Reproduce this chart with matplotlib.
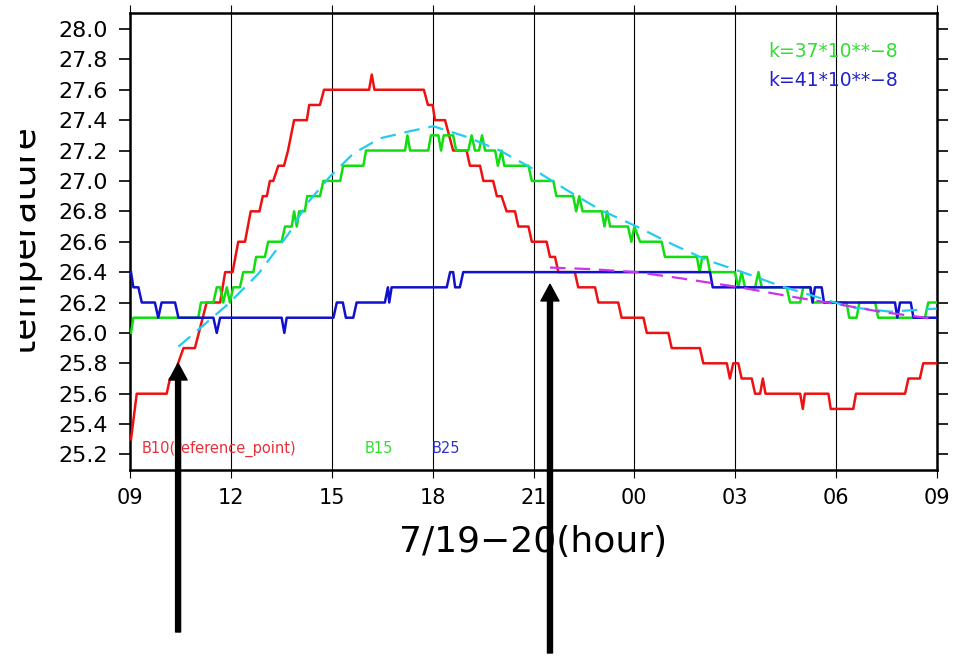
import matplotlib
matplotlib.use("Agg")
import matplotlib.pyplot as plt
from matplotlib.patches import Rectangle

# hours after 7/19 09:00
b10_hours = [0.03, 0.20, 1.09, 1.19, 1.28, 1.43, 1.59, 1.93, 2.28, 2.68, 2.83, 3.05,
             3.22, 3.42, 3.59, 3.85, 3.95, 4.07, 4.16, 4.26, 4.41, 4.58, 4.70, 4.88,
             5.26, 5.33, 5.65, 5.77, 7.11, 7.19, 7.27, 8.74, 8.86, 9.00, 9.07, 9.37,
             9.61, 10.01, 10.11, 10.41, 10.51, 10.80, 10.91, 11.05, 11.20, 11.45, 11.55,
             11.85, 11.95, 12.39, 12.49, 12.64, 12.74, 13.23, 13.33, 13.83, 13.93, 14.52,
             14.62, 15.27, 15.37, 16.01, 16.11, 16.95, 17.05, 17.75, 17.84, 17.94, 18.09,
             18.19, 18.49, 18.59, 18.74, 18.82, 18.90, 19.93, 20.01, 20.07, 20.77, 20.84,
             21.51, 21.59, 23.05, 23.15, 23.49, 23.59, 24.00]
b10_temp = [25.3, 25.6, 25.6, 25.7, 25.7, 25.8, 25.9, 25.9, 26.2, 26.2, 26.4, 26.4,
            26.6, 26.6, 26.8, 26.8, 26.9, 26.9, 27.0, 27.0, 27.1, 27.1, 27.2, 27.4,
            27.4, 27.5, 27.5, 27.6, 27.6, 27.7, 27.6, 27.6, 27.5, 27.5, 27.4, 27.4,
            27.2, 27.2, 27.1, 27.1, 27.0, 27.0, 26.9, 26.9, 26.8, 26.8, 26.7,
            26.7, 26.6, 26.6, 26.5, 26.5, 26.4, 26.4, 26.3, 26.3, 26.2, 26.2,
            26.1, 26.1, 26.0, 26.0, 25.9, 25.9, 25.8, 25.8, 25.7, 25.8, 25.8,
            25.7, 25.7, 25.6, 25.6, 25.7, 25.6, 25.6, 25.5, 25.6, 25.6, 25.5,
            25.5, 25.6, 25.6, 25.7, 25.7, 25.8, 25.8]

b15_hours = [0.03, 0.10, 2.03, 2.11, 2.48, 2.58, 2.68, 2.77, 2.88, 2.97, 3.07, 3.27,
             3.37, 3.67, 3.75, 4.01, 4.11, 4.51, 4.61, 4.81, 4.88, 4.96, 5.03, 5.20,
             5.27, 5.65, 5.75, 6.25, 6.34, 6.94, 7.02, 8.18, 8.25, 8.33, 8.87, 8.95,
             9.17, 9.25, 9.33, 9.61, 9.70, 10.06, 10.16, 10.26, 10.38, 10.47, 10.56,
             10.86, 10.94, 11.05, 11.13, 11.85, 11.95, 12.59, 12.68, 13.18, 13.27, 13.36,
             13.46, 14.03, 14.11, 14.19, 14.28, 14.81, 14.91, 15.00, 15.17, 15.81, 15.91,
             16.86, 16.94, 17.02, 17.16, 17.25, 17.99, 18.09, 18.19, 18.29, 18.59, 18.69,
             18.79, 19.53, 19.63, 19.93, 20.02, 20.22, 20.30, 21.31, 21.39, 21.61, 21.69,
             22.16, 22.25, 23.64, 23.74, 24.00]
b15_temp = [26.0, 26.1, 26.1, 26.2, 26.2, 26.3, 26.3, 26.2, 26.3, 26.2, 26.3, 26.3,
            26.4, 26.4, 26.5, 26.5, 26.6, 26.6, 26.7, 26.7, 26.8, 26.7, 26.8, 26.8,
            26.9, 26.9, 27.0, 27.0, 27.1, 27.1, 27.2, 27.2, 27.3, 27.2, 27.2, 27.3,
            27.3, 27.2, 27.3, 27.3, 27.2, 27.2, 27.3, 27.2, 27.2, 27.3, 27.2,
            27.2, 27.1, 27.2, 27.1, 27.1, 27.0, 27.0, 26.9, 26.9, 26.8, 26.9,
            26.8, 26.8, 26.7, 26.8, 26.7, 26.7, 26.6, 26.7, 26.6, 26.6, 26.5,
            26.5, 26.4, 26.5, 26.5, 26.4, 26.4, 26.3, 26.4, 26.3, 26.3, 26.4,
            26.3, 26.3, 26.2, 26.2, 26.3, 26.3, 26.2, 26.2, 26.1, 26.1, 26.2,
            26.2, 26.1, 26.1, 26.2, 26.2]

b25_hours = [0.03, 0.10, 0.25, 0.35, 0.74, 0.84, 0.94, 1.34, 1.44, 2.48, 2.58, 2.68,
             4.51, 4.59, 4.66, 6.05, 6.15, 6.33, 6.42, 6.64, 6.74, 7.58, 7.67, 7.71,
             7.78, 9.42, 9.52, 9.61, 9.67, 9.81, 9.91, 17.25, 17.33, 20.24, 20.30, 20.37,
             20.57, 20.64, 22.75, 22.82, 22.90, 23.22, 23.30, 24.00]
b25_temp = [26.4, 26.3, 26.3, 26.2, 26.2, 26.1, 26.2, 26.2, 26.1, 26.1, 26.0, 26.1,
            26.1, 26.0, 26.1, 26.1, 26.2, 26.2, 26.1, 26.1, 26.2, 26.2, 26.3, 26.2,
            26.3, 26.3, 26.4, 26.4, 26.3, 26.3, 26.4, 26.4, 26.3, 26.3, 26.2, 26.3,
            26.3, 26.2, 26.2, 26.1, 26.2, 26.2, 26.1, 26.1]

# model curves
fit15_hours = [1.44, 2.13, 2.92, 3.82, 4.71, 5.26, 5.95, 6.64, 7.43, 8.38, 9.02, 10.01,
               11.00, 11.90, 12.99, 13.98, 15.07, 16.16, 17.15, 18.34, 19.33, 20.52,
               21.41, 22.60, 23.99]
fit15_temp = [25.91, 26.04, 26.19, 26.39, 26.65, 26.85, 27.03, 27.18, 27.28, 27.33, 27.36,
              27.29, 27.20, 27.09, 26.94, 26.81, 26.70, 26.58, 26.48, 26.39, 26.31, 26.23,
              26.17, 26.14, 26.16]
fit25_hours = [12.49, 13.68, 15.07, 16.36, 18.14, 19.63, 21.02, 22.30, 23.99]
fit25_temp = [26.43, 26.42, 26.40, 26.36, 26.30, 26.24, 26.19, 26.14, 26.09]

tick_hours = [0, 3, 6, 9, 12, 15, 18, 21, 24]
tick_labels = ["09", "12", "15", "18", "21", "00", "03", "06", "09"]
y_ticks = [25.2 + 0.2 * i for i in range(15)]

W, H = 963, 656
fig = plt.figure(figsize=(W / 100, H / 100), dpi=100, facecolor="white")
ax = fig.add_axes([130 / W, 1 - 470 / H, 807 / W, 457 / H])

ax.plot(b10_hours, b10_temp, color="#ee1111", lw=1.8, zorder=3)
ax.plot(b15_hours, b15_temp, color="#11dd11", lw=1.8, zorder=3)
ax.plot(b25_hours, b25_temp, color="#1111cc", lw=1.8, zorder=4)
ax.plot(fit15_hours, fit15_temp, color="#22ccee", lw=1.6, dashes=(7, 4), zorder=5)
ax.plot(fit25_hours, fit25_temp, color="#cc33ee", lw=1.6, dashes=(7, 4), zorder=5)

ax.set_xlim(0, 24)
ax.set_ylim(25.098, 28.105)
ax.set_xticks(tick_hours)
ax.set_xticklabels(tick_labels)
ax.set_yticks(y_ticks)
ax.set_yticklabels([f"{v:.1f}" for v in y_ticks])
ax.grid(axis="x", color="black", lw=0.8)
for s in ax.spines.values():
    s.set_linewidth(1.8)

ax.tick_params(axis="x", direction="out", length=6, width=0.8, pad=7,
               labelsize=15, top=True)
ax.tick_params(axis="y", direction="out", length=8, width=1.2, pad=8,
               labelsize=16, right=True)
ax.set_xlabel("7/19\u221220(hour)", fontsize=26, labelpad=12)

# y label is partly cut off in the original
fig.text(42 / W, 1 - 240 / H, "temperature", rotation=90, ha="right",
         va="center", fontsize=26)
fig.patches.append(Rectangle((0, 0), 20 / W, 1, transform=fig.transFigure,
                             facecolor="white", edgecolor="none", zorder=5))

ax.text(0.36, 25.24, "B10(reference_point)", color="#e8303a", fontsize=10.5, va="center")
ax.text(6.99, 25.24, "B15", color="#33dd33", fontsize=10.5, va="center")
ax.text(8.98, 25.24, "B25", color="#3333cc", fontsize=10.5, va="center")
ax.text(18.97, 27.85, "k=37*10**\u22128", color="#33dd33", fontsize=13.5, va="center")
ax.text(18.97, 27.66, "k=41*10**\u22128", color="#2222cc", fontsize=13.5, va="center")

arrow = dict(facecolor="black", edgecolor="black", width=3.6, headwidth=13,
             headlength=12, shrink=0)
ax.annotate("", xy=(1.43, 25.80), xytext=(1.43, 24 / H),
            textcoords=("data", "figure fraction"), arrowprops=arrow,
            annotation_clip=False, zorder=10)
ax.annotate("", xy=(12.49, 26.32), xytext=(12.49, 3 / H),
            textcoords=("data", "figure fraction"), arrowprops=arrow,
            annotation_clip=False, zorder=10)

fig.savefig("out.png", dpi=100)
